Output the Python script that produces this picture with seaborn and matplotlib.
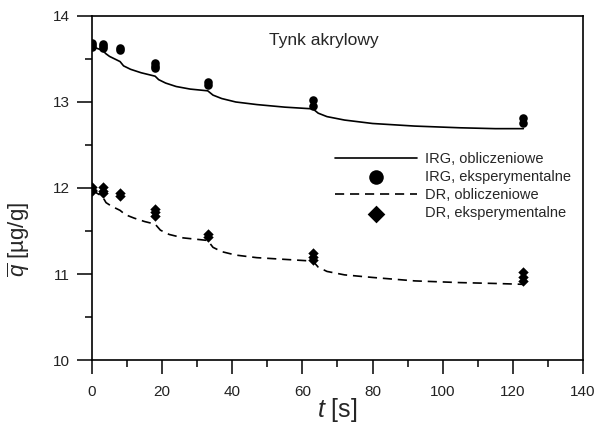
#!/usr/bin/env python3
import numpy as np
import pandas as pd
import matplotlib
matplotlib.use("Agg")
import matplotlib.pyplot as plt
import seaborn as sns

# ============ DANE ============
# punkty pomiarowe (czas w s)
T_POMIAR = [0, 3, 8, 18, 33, 63, 123]

irg_exp_t = [0, 0, 0, 3, 3, 3, 8, 8, 18, 18, 18, 33, 33, 63, 63, 123, 123]
irg_exp_q = [13.69, 13.66, 13.64, 13.68, 13.65, 13.63, 13.63, 13.60,
             13.45, 13.42, 13.39, 13.23, 13.20, 13.02, 12.95, 12.81, 12.76]

dr_exp_t = [0, 0, 0, 3, 3, 3, 8, 8, 18, 18, 18, 33, 33, 63, 63, 63, 123, 123, 123]
dr_exp_q = [12.01, 11.98, 11.96, 12.01, 11.97, 11.94, 11.94, 11.91,
            11.76, 11.72, 11.68, 11.47, 11.43, 11.25, 11.20, 11.16,
            11.02, 10.97, 10.92]

# krzywe obliczeniowe
irg_calc_t = [0, 1, 3, 4, 5, 8, 9, 11, 14, 18, 19, 21, 24, 28, 33, 34.5, 37, 41,
              47, 55, 63, 64.5, 67, 72, 80, 92, 105, 115, 123]
irg_calc_q = [13.66, 13.63, 13.60, 13.56, 13.53, 13.47, 13.42, 13.38, 13.34, 13.30,
              13.26, 13.22, 13.18, 13.15, 13.13, 13.08, 13.04, 13.00, 12.97, 12.94,
              12.92, 12.87, 12.83, 12.79, 12.75, 12.72, 12.70, 12.69, 12.69]

dr_calc_t = [0, 1, 3, 4, 5.5, 8, 9.5, 12, 15, 18, 19.5, 22, 26, 33, 34.5, 37, 41,
             47, 55, 63, 64.5, 67, 72, 80, 92, 105, 115, 123]
dr_calc_q = [11.98, 11.95, 11.90, 11.83, 11.79, 11.74, 11.69, 11.65, 11.61, 11.58,
             11.51, 11.46, 11.42, 11.39, 11.31, 11.26, 11.22, 11.19, 11.17, 11.15,
             11.08, 11.03, 10.99, 10.96, 10.92, 10.90, 10.89, 10.88]

ETYKIETY = ["IRG, obliczeniowe", "IRG, eksperymentalne",
            "DR, obliczeniowe", "DR, eksperymentalne"]
# ==============================


def rysuj():
    sns.set_style("ticks")
    plt.rcParams["font.family"] = ["Liberation Sans", "DejaVu Sans"]
    plt.rcParams["mathtext.fontset"] = "custom"
    plt.rcParams["mathtext.rm"] = "Liberation Sans"
    plt.rcParams["mathtext.it"] = "Liberation Sans:italic"

    fig = plt.figure(figsize=(5.97, 4.25), dpi=100)
    ax = fig.add_axes([0.1541, 0.1529, 0.8224, 0.8095])

    df_irg = pd.DataFrame({"t": irg_calc_t, "q": irg_calc_q})
    df_dr = pd.DataFrame({"t": dr_calc_t, "q": dr_calc_q})
    df_irg_e = pd.DataFrame({"t": irg_exp_t, "q": irg_exp_q})
    df_dr_e = pd.DataFrame({"t": dr_exp_t, "q": dr_exp_q})

    sns.lineplot(data=df_irg, x="t", y="q", ax=ax, color="black", lw=1.2,
                 label=ETYKIETY[0], estimator=None)
    sns.scatterplot(data=df_irg_e, x="t", y="q", ax=ax, color="black", marker="o",
                    s=38, linewidth=0, label=ETYKIETY[1], zorder=3)
    sns.lineplot(data=df_dr, x="t", y="q", ax=ax, color="black", lw=1.2,
                 dashes=False, label=ETYKIETY[2], estimator=None)
    ax.lines[-1].set_dashes((5.5, 3.5))
    sns.scatterplot(data=df_dr_e, x="t", y="q", ax=ax, color="black", marker="D",
                    s=28, linewidth=0, label=ETYKIETY[3], zorder=3)

    ax.set_xlim(0, 140)
    ax.set_ylim(10, 14)
    ax.set_xticks(np.arange(0, 141, 20))
    ax.set_xticks(np.arange(10, 140, 20), minor=True)
    ax.set_yticks(np.arange(10, 14.1, 1))
    ax.set_yticks(np.arange(10.5, 14, 1), minor=True)

    for s in ax.spines.values():
        s.set_linewidth(1.2)
        s.set_color("black")
    ax.tick_params(axis="x", which="major", length=10, width=1.1, pad=8,
                   labelsize=11, colors="black", labelcolor="#222222")
    ax.tick_params(axis="y", which="major", length=11, width=1.1, pad=5,
                   labelsize=11, colors="black", labelcolor="#222222")
    ax.tick_params(which="minor", length=5, width=1.1, colors="black")

    ax.set_xlabel(r"$t$ [s]", fontsize=18, labelpad=-2)
    ax.set_ylabel(r"$\overline{q}$ [µg/g]", fontsize=16)
    ax.yaxis.set_label_coords(-0.122, 0.35)

    ax.text(66, 13.72, "Tynk akrylowy", fontsize=12.5, ha="center", va="center")

    uchwyty, etykiety = ax.get_legend_handles_labels()
    mapa = dict(zip(etykiety, uchwyty))
    ax.legend([mapa[e] for e in ETYKIETY], ETYKIETY, loc="center left",
              bbox_to_anchor=(0.495, 0.505), frameon=False, fontsize=10.5,
              handlelength=5.6, handletextpad=0.6, labelspacing=0.28,
              borderpad=0, borderaxespad=0, markerscale=1.7)

    fig.savefig("out.png", dpi=100)
    plt.close(fig)


if __name__ == "__main__":
    rysuj()
